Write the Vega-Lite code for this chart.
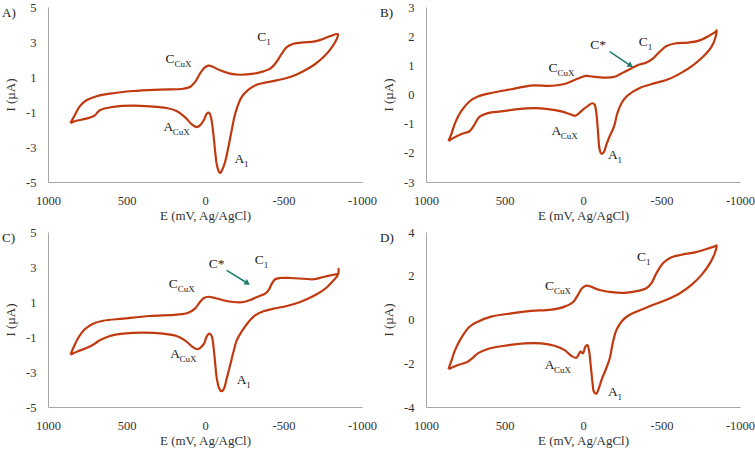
{
  "$schema": "https://vega.github.io/schema/vega-lite/v6.json",
  "padding": {"left": 2, "top": 1, "right": 2, "bottom": 2},
  "background": "white",
  "config": {
    "view": {"stroke": null},
    "font": "Liberation Serif",
    "text": {"font": "Liberation Serif", "color": "#1a1a1a"},
    "axis": {
      "grid": false, "ticks": false, "tickSize": 0, "labelFlush": false,
      "domainColor": "#A6A6A6", "domainWidth": 1,
      "labelFont": "Liberation Serif", "labelFontSize": 12.5, "labelColor": "#333333",
      "titleFont": "Liberation Serif", "titleFontSize": 13, "titleFontWeight": "normal", "titleColor": "#333333",
      "labelExpr": "'' + datum.value"
    },
    "axisX": {"labelPadding": 12, "titlePadding": 3},
    "axisY": {"labelPadding": 12, "titlePadding": 8}
  },
  "datasets": {
    "cv": [
      {"panel":"A","i":0,"E":857,"I":-1.63},{"panel":"A","i":1,"E":830,"I":-1.19},{"panel":"A","i":2,"E":798,"I":-0.68},{"panel":"A","i":3,"E":755,"I":-0.33},{"panel":"A","i":4,"E":691,"I":-0.10},{"panel":"A","i":5,"E":606,"I":0.05},{"panel":"A","i":6,"E":457,"I":0.20},{"panel":"A","i":7,"E":287,"I":0.28},{"panel":"A","i":8,"E":138,"I":0.33},{"panel":"A","i":9,"E":96,"I":0.43},{"panel":"A","i":10,"E":64,"I":0.71},{"panel":"A","i":11,"E":32,"I":1.19},{"panel":"A","i":12,"E":6,"I":1.51},{"panel":"A","i":13,"E":-21,"I":1.65},{"panel":"A","i":14,"E":-53,"I":1.57},{"panel":"A","i":15,"E":-96,"I":1.38},{"panel":"A","i":16,"E":-160,"I":1.19},{"panel":"A","i":17,"E":-223,"I":1.13},{"panel":"A","i":18,"E":-309,"I":1.19},{"panel":"A","i":19,"E":-372,"I":1.32},{"panel":"A","i":20,"E":-415,"I":1.48},{"panel":"A","i":21,"E":-447,"I":1.76},{"panel":"A","i":22,"E":-489,"I":2.33},{"panel":"A","i":23,"E":-521,"I":2.71},{"panel":"A","i":24,"E":-564,"I":2.90},{"panel":"A","i":25,"E":-628,"I":2.98},{"panel":"A","i":26,"E":-691,"I":3.02},{"panel":"A","i":27,"E":-745,"I":3.15},{"panel":"A","i":28,"E":-798,"I":3.34},{"panel":"A","i":29,"E":-847,"I":3.44},{"panel":"A","i":30,"E":-840,"I":3.19},{"panel":"A","i":31,"E":-809,"I":2.71},{"panel":"A","i":32,"E":-755,"I":2.14},{"panel":"A","i":33,"E":-691,"I":1.67},{"panel":"A","i":34,"E":-617,"I":1.29},{"panel":"A","i":35,"E":-543,"I":1.00},{"panel":"A","i":36,"E":-457,"I":0.81},{"panel":"A","i":37,"E":-372,"I":0.66},{"panel":"A","i":38,"E":-319,"I":0.52},{"panel":"A","i":39,"E":-277,"I":0.28},{"panel":"A","i":40,"E":-234,"I":-0.14},{"panel":"A","i":41,"E":-206,"I":-0.71},{"panel":"A","i":42,"E":-187,"I":-1.29},{"panel":"A","i":43,"E":-170,"I":-2.05},{"panel":"A","i":44,"E":-149,"I":-3.00},{"panel":"A","i":45,"E":-128,"I":-3.86},{"panel":"A","i":46,"E":-106,"I":-4.37},{"panel":"A","i":47,"E":-96,"I":-4.49},{"panel":"A","i":48,"E":-85,"I":-4.33},{"panel":"A","i":49,"E":-74,"I":-3.95},{"panel":"A","i":50,"E":-64,"I":-3.19},{"panel":"A","i":51,"E":-53,"I":-2.24},{"panel":"A","i":52,"E":-40,"I":-1.38},{"panel":"A","i":53,"E":-26,"I":-1.04},{"panel":"A","i":54,"E":-11,"I":-1.10},{"panel":"A","i":55,"E":6,"I":-1.44},{"panel":"A","i":56,"E":32,"I":-1.76},{"panel":"A","i":57,"E":53,"I":-1.86},{"panel":"A","i":58,"E":85,"I":-1.70},{"panel":"A","i":59,"E":128,"I":-1.29},{"panel":"A","i":60,"E":181,"I":-0.94},{"panel":"A","i":61,"E":245,"I":-0.77},{"panel":"A","i":62,"E":351,"I":-0.68},{"panel":"A","i":63,"E":457,"I":-0.64},{"panel":"A","i":64,"E":585,"I":-0.71},{"panel":"A","i":65,"E":670,"I":-0.90},{"panel":"A","i":66,"E":702,"I":-1.19},{"panel":"A","i":67,"E":734,"I":-1.32},{"panel":"A","i":68,"E":787,"I":-1.44},{"panel":"A","i":69,"E":830,"I":-1.53},{"panel":"A","i":70,"E":857,"I":-1.63},

      {"panel":"B","i":0,"E":857,"I":-1.60},{"panel":"B","i":1,"E":840,"I":-1.38},{"panel":"B","i":2,"E":815,"I":-0.98},{"panel":"B","i":3,"E":777,"I":-0.58},{"panel":"B","i":4,"E":723,"I":-0.24},{"panel":"B","i":5,"E":670,"I":-0.07},{"panel":"B","i":6,"E":585,"I":0.05},{"panel":"B","i":7,"E":457,"I":0.18},{"panel":"B","i":8,"E":372,"I":0.27},{"panel":"B","i":9,"E":309,"I":0.31},{"panel":"B","i":10,"E":202,"I":0.30},{"panel":"B","i":11,"E":117,"I":0.36},{"panel":"B","i":12,"E":53,"I":0.50},{"panel":"B","i":13,"E":11,"I":0.59},{"panel":"B","i":14,"E":-21,"I":0.64},{"panel":"B","i":15,"E":-64,"I":0.61},{"panel":"B","i":16,"E":-138,"I":0.58},{"panel":"B","i":17,"E":-202,"I":0.61},{"panel":"B","i":18,"E":-255,"I":0.75},{"panel":"B","i":19,"E":-309,"I":0.90},{"panel":"B","i":20,"E":-351,"I":1.01},{"panel":"B","i":21,"E":-404,"I":1.10},{"panel":"B","i":22,"E":-447,"I":1.24},{"panel":"B","i":23,"E":-489,"I":1.47},{"panel":"B","i":24,"E":-532,"I":1.66},{"panel":"B","i":25,"E":-585,"I":1.75},{"panel":"B","i":26,"E":-670,"I":1.78},{"panel":"B","i":27,"E":-734,"I":1.84},{"panel":"B","i":28,"E":-798,"I":2.00},{"panel":"B","i":29,"E":-847,"I":2.17},{"panel":"B","i":30,"E":-851,"I":2.20},{"panel":"B","i":31,"E":-845,"I":1.98},{"panel":"B","i":32,"E":-819,"I":1.64},{"panel":"B","i":33,"E":-766,"I":1.30},{"panel":"B","i":34,"E":-702,"I":1.01},{"panel":"B","i":35,"E":-628,"I":0.75},{"panel":"B","i":36,"E":-543,"I":0.52},{"panel":"B","i":37,"E":-457,"I":0.39},{"panel":"B","i":38,"E":-372,"I":0.25},{"panel":"B","i":39,"E":-319,"I":0.10},{"panel":"B","i":40,"E":-277,"I":-0.07},{"panel":"B","i":41,"E":-245,"I":-0.30},{"panel":"B","i":42,"E":-219,"I":-0.64},{"panel":"B","i":43,"E":-198,"I":-1.09},{"panel":"B","i":44,"E":-170,"I":-1.43},{"panel":"B","i":45,"E":-149,"I":-1.72},{"panel":"B","i":46,"E":-132,"I":-1.98},{"panel":"B","i":47,"E":-117,"I":-2.03},{"panel":"B","i":48,"E":-106,"I":-1.89},{"panel":"B","i":49,"E":-96,"I":-1.32},{"panel":"B","i":50,"E":-85,"I":-0.64},{"panel":"B","i":51,"E":-74,"I":-0.35},{"panel":"B","i":52,"E":-60,"I":-0.30},{"panel":"B","i":53,"E":-32,"I":-0.39},{"panel":"B","i":54,"E":0,"I":-0.52},{"panel":"B","i":55,"E":32,"I":-0.67},{"panel":"B","i":56,"E":53,"I":-0.73},{"panel":"B","i":57,"E":85,"I":-0.67},{"panel":"B","i":58,"E":138,"I":-0.58},{"panel":"B","i":59,"E":223,"I":-0.50},{"panel":"B","i":60,"E":309,"I":-0.47},{"panel":"B","i":61,"E":415,"I":-0.50},{"panel":"B","i":62,"E":521,"I":-0.58},{"panel":"B","i":63,"E":606,"I":-0.64},{"panel":"B","i":64,"E":660,"I":-0.77},{"panel":"B","i":65,"E":691,"I":-1.03},{"panel":"B","i":66,"E":723,"I":-1.26},{"panel":"B","i":67,"E":766,"I":-1.34},{"panel":"B","i":68,"E":819,"I":-1.47},{"panel":"B","i":69,"E":857,"I":-1.60},

      {"panel":"C","i":0,"E":857,"I":-2.01},{"panel":"C","i":1,"E":836,"I":-1.57},{"panel":"C","i":2,"E":804,"I":-1.00},{"panel":"C","i":3,"E":766,"I":-0.56},{"panel":"C","i":4,"E":713,"I":-0.24},{"panel":"C","i":5,"E":649,"I":-0.07},{"panel":"C","i":6,"E":521,"I":0.05},{"panel":"C","i":7,"E":351,"I":0.20},{"panel":"C","i":8,"E":181,"I":0.28},{"panel":"C","i":9,"E":106,"I":0.39},{"panel":"C","i":10,"E":64,"I":0.62},{"panel":"C","i":11,"E":32,"I":1.00},{"panel":"C","i":12,"E":6,"I":1.23},{"panel":"C","i":13,"E":-21,"I":1.30},{"panel":"C","i":14,"E":-64,"I":1.23},{"panel":"C","i":15,"E":-117,"I":1.10},{"panel":"C","i":16,"E":-181,"I":1.00},{"panel":"C","i":17,"E":-245,"I":1.00},{"panel":"C","i":18,"E":-298,"I":1.15},{"panel":"C","i":19,"E":-340,"I":1.32},{"panel":"C","i":20,"E":-383,"I":1.48},{"panel":"C","i":21,"E":-404,"I":1.67},{"panel":"C","i":22,"E":-426,"I":2.05},{"panel":"C","i":23,"E":-447,"I":2.30},{"panel":"C","i":24,"E":-479,"I":2.37},{"panel":"C","i":25,"E":-543,"I":2.37},{"panel":"C","i":26,"E":-628,"I":2.33},{"panel":"C","i":27,"E":-691,"I":2.30},{"panel":"C","i":28,"E":-755,"I":2.43},{"panel":"C","i":29,"E":-819,"I":2.56},{"panel":"C","i":30,"E":-847,"I":2.62},{"panel":"C","i":31,"E":-851,"I":2.90},{"panel":"C","i":32,"E":-847,"I":2.56},{"panel":"C","i":33,"E":-819,"I":2.24},{"panel":"C","i":34,"E":-766,"I":1.76},{"panel":"C","i":35,"E":-691,"I":1.34},{"panel":"C","i":36,"E":-606,"I":1.00},{"panel":"C","i":37,"E":-521,"I":0.77},{"panel":"C","i":38,"E":-436,"I":0.62},{"panel":"C","i":39,"E":-372,"I":0.47},{"panel":"C","i":40,"E":-319,"I":0.24},{"panel":"C","i":41,"E":-277,"I":-0.14},{"panel":"C","i":42,"E":-234,"I":-0.68},{"panel":"C","i":43,"E":-202,"I":-1.19},{"panel":"C","i":44,"E":-181,"I":-1.86},{"panel":"C","i":45,"E":-160,"I":-2.62},{"panel":"C","i":46,"E":-138,"I":-3.38},{"panel":"C","i":47,"E":-121,"I":-3.95},{"panel":"C","i":48,"E":-106,"I":-4.10},{"panel":"C","i":49,"E":-91,"I":-3.95},{"panel":"C","i":50,"E":-74,"I":-3.29},{"panel":"C","i":51,"E":-64,"I":-2.43},{"panel":"C","i":52,"E":-53,"I":-1.48},{"panel":"C","i":53,"E":-43,"I":-0.96},{"panel":"C","i":54,"E":-28,"I":-0.81},{"panel":"C","i":55,"E":-11,"I":-0.96},{"panel":"C","i":56,"E":6,"I":-1.38},{"panel":"C","i":57,"E":32,"I":-1.63},{"panel":"C","i":58,"E":49,"I":-1.70},{"panel":"C","i":59,"E":79,"I":-1.57},{"panel":"C","i":60,"E":128,"I":-1.19},{"panel":"C","i":61,"E":181,"I":-0.94},{"panel":"C","i":62,"E":266,"I":-0.81},{"panel":"C","i":63,"E":394,"I":-0.75},{"panel":"C","i":64,"E":521,"I":-0.81},{"panel":"C","i":65,"E":606,"I":-0.94},{"panel":"C","i":66,"E":670,"I":-1.19},{"panel":"C","i":67,"E":713,"I":-1.44},{"panel":"C","i":68,"E":755,"I":-1.63},{"panel":"C","i":69,"E":809,"I":-1.82},{"panel":"C","i":70,"E":857,"I":-2.01},

      {"panel":"D","i":0,"E":857,"I":-2.27},{"panel":"D","i":1,"E":840,"I":-1.93},{"panel":"D","i":2,"E":815,"I":-1.40},{"panel":"D","i":3,"E":777,"I":-0.86},{"panel":"D","i":4,"E":723,"I":-0.33},{"panel":"D","i":5,"E":670,"I":-0.10},{"panel":"D","i":6,"E":585,"I":0.13},{"panel":"D","i":7,"E":457,"I":0.28},{"panel":"D","i":8,"E":330,"I":0.39},{"panel":"D","i":9,"E":202,"I":0.45},{"panel":"D","i":10,"E":117,"I":0.59},{"panel":"D","i":11,"E":64,"I":0.79},{"panel":"D","i":12,"E":32,"I":1.13},{"panel":"D","i":13,"E":6,"I":1.43},{"panel":"D","i":14,"E":-21,"I":1.55},{"panel":"D","i":15,"E":-53,"I":1.49},{"panel":"D","i":16,"E":-106,"I":1.35},{"panel":"D","i":17,"E":-181,"I":1.25},{"panel":"D","i":18,"E":-266,"I":1.22},{"panel":"D","i":19,"E":-351,"I":1.31},{"panel":"D","i":20,"E":-404,"I":1.43},{"panel":"D","i":21,"E":-436,"I":1.66},{"panel":"D","i":22,"E":-468,"I":2.12},{"panel":"D","i":23,"E":-511,"I":2.58},{"panel":"D","i":24,"E":-564,"I":2.85},{"panel":"D","i":25,"E":-628,"I":2.96},{"panel":"D","i":26,"E":-713,"I":3.07},{"panel":"D","i":27,"E":-787,"I":3.22},{"panel":"D","i":28,"E":-847,"I":3.37},{"panel":"D","i":29,"E":-851,"I":3.39},{"panel":"D","i":30,"E":-840,"I":3.04},{"panel":"D","i":31,"E":-809,"I":2.58},{"panel":"D","i":32,"E":-755,"I":2.04},{"panel":"D","i":33,"E":-691,"I":1.58},{"panel":"D","i":34,"E":-617,"I":1.20},{"panel":"D","i":35,"E":-532,"I":0.90},{"panel":"D","i":36,"E":-436,"I":0.64},{"panel":"D","i":37,"E":-351,"I":0.39},{"panel":"D","i":38,"E":-287,"I":0.17},{"panel":"D","i":39,"E":-245,"I":-0.10},{"panel":"D","i":40,"E":-213,"I":-0.48},{"panel":"D","i":41,"E":-191,"I":-1.02},{"panel":"D","i":42,"E":-170,"I":-1.78},{"panel":"D","i":43,"E":-143,"I":-2.32},{"panel":"D","i":44,"E":-121,"I":-2.70},{"panel":"D","i":45,"E":-100,"I":-3.16},{"panel":"D","i":46,"E":-85,"I":-3.39},{"panel":"D","i":47,"E":-70,"I":-3.31},{"panel":"D","i":48,"E":-60,"I":-2.85},{"panel":"D","i":49,"E":-49,"I":-2.09},{"panel":"D","i":50,"E":-38,"I":-1.40},{"panel":"D","i":51,"E":-28,"I":-1.17},{"panel":"D","i":52,"E":-15,"I":-1.24},{"panel":"D","i":53,"E":0,"I":-1.55},{"panel":"D","i":54,"E":15,"I":-1.47},{"panel":"D","i":55,"E":32,"I":-1.66},{"panel":"D","i":56,"E":43,"I":-1.75},{"panel":"D","i":57,"E":74,"I":-1.66},{"panel":"D","i":58,"E":117,"I":-1.40},{"panel":"D","i":59,"E":181,"I":-1.20},{"panel":"D","i":60,"E":266,"I":-1.09},{"panel":"D","i":61,"E":372,"I":-1.09},{"panel":"D","i":62,"E":500,"I":-1.20},{"panel":"D","i":63,"E":606,"I":-1.35},{"panel":"D","i":64,"E":670,"I":-1.55},{"panel":"D","i":65,"E":702,"I":-1.75},{"panel":"D","i":66,"E":734,"I":-1.93},{"panel":"D","i":67,"E":787,"I":-2.06},{"panel":"D","i":68,"E":857,"I":-2.27}
    ],
    "labels": [
      {"panel":"A","E":223,"I":2.05,"main":"C","sub":"CuX"},
      {"panel":"A","E":-362,"I":3.29,"main":"C","sub":"1"},
      {"panel":"A","E":234,"I":-1.86,"main":"A","sub":"CuX"},
      {"panel":"A","E":-219,"I":-3.67,"main":"A","sub":"1"},
      {"panel":"B","E":191,"I":0.90,"main":"C","sub":"CuX"},
      {"panel":"B","E":-96,"I":1.69,"main":"C*","sub":""},
      {"panel":"B","E":-383,"I":1.81,"main":"C","sub":"1"},
      {"panel":"B","E":170,"I":-1.26,"main":"A","sub":"CuX"},
      {"panel":"B","E":-191,"I":-2.09,"main":"A","sub":"1"},
      {"panel":"C","E":202,"I":2.05,"main":"C","sub":"CuX"},
      {"panel":"C","E":-74,"I":3.19,"main":"C*","sub":""},
      {"panel":"C","E":-345,"I":3.38,"main":"C","sub":"1"},
      {"panel":"C","E":191,"I":-1.95,"main":"A","sub":"CuX"},
      {"panel":"C","E":-234,"I":-3.48,"main":"A","sub":"1"},
      {"panel":"D","E":213,"I":1.51,"main":"C","sub":"CuX"},
      {"panel":"D","E":-372,"I":2.88,"main":"C","sub":"1"},
      {"panel":"D","E":213,"I":-2.06,"main":"A","sub":"CuX"},
      {"panel":"D","E":-191,"I":-3.32,"main":"A","sub":"1"}
    ],
    "arrows": [
      {"panel":"B","E":-170,"I":1.47,"E2":-298,"I2":1.01},
      {"panel":"C","E":-138,"I":2.81,"E2":-266,"I2":2.10}
    ],
    "tags": [
      {"panel":"A","E":1000,"I":5,"tag":"A)"},
      {"panel":"B","E":1000,"I":3,"tag":"B)"},
      {"panel":"C","E":1000,"I":5,"tag":"C)"},
      {"panel":"D","E":1000,"I":4,"tag":"D)"}
    ]
  },
  "columns": 2,
  "spacing": {"row": 50, "column": 64},
  "bounds": "flush",
  "concat": [
    {
      "width": 314, "height": 175,
      "encoding": {
        "x": {"field": "E", "type": "quantitative", "scale": {"domain": [-1000, 1000], "reverse": true, "nice": false, "zero": false}, "axis": {"values": [1000, 500, 0, -500, -1000], "title": "E (mV, Ag/AgCl)"}},
        "y": {"field": "I", "type": "quantitative", "scale": {"domain": [-5, 5], "nice": false, "zero": false}, "axis": {"values": [-5, -3, -1, 1, 3, 5], "title": "I (µA)"}}
      },
      "layer": [
        {"data": {"name": "cv"}, "transform": [{"filter": "datum.panel == 'A'"}], "mark": {"type": "line", "color": "#C0390F", "strokeWidth": 2.2, "interpolate": "catmull-rom"}, "encoding": {"order": {"field": "i", "type": "quantitative"}}},
        {"data": {"name": "labels"}, "transform": [{"filter": "datum.panel == 'A'"}], "mark": {"type": "text", "fontSize": 13.5, "align": "center", "baseline": "middle"}, "encoding": {"text": {"field": "main"}}},
        {"data": {"name": "labels"}, "transform": [{"filter": "datum.panel == 'A'"}], "mark": {"type": "text", "fontSize": 9, "align": "left", "baseline": "middle", "dx": 4.5, "dy": 5}, "encoding": {"text": {"field": "sub"}}},
        {"data": {"name": "tags"}, "transform": [{"filter": "datum.panel == 'A'"}], "mark": {"type": "text", "fontSize": 13, "align": "left", "baseline": "middle", "dx": -46, "dy": 6}, "encoding": {"text": {"field": "tag"}}}
      ]
    },
    {
      "width": 314, "height": 175,
      "encoding": {
        "x": {"field": "E", "type": "quantitative", "scale": {"domain": [-1000, 1000], "reverse": true, "nice": false, "zero": false}, "axis": {"values": [1000, 500, 0, -500, -1000], "title": "E (mV, Ag/AgCl)"}},
        "y": {"field": "I", "type": "quantitative", "scale": {"domain": [-3, 3], "nice": false, "zero": false}, "axis": {"values": [-3, -2, -1, 0, 1, 2, 3], "title": "I (µA)"}}
      },
      "layer": [
        {"data": {"name": "cv"}, "transform": [{"filter": "datum.panel == 'B'"}], "mark": {"type": "line", "color": "#C0390F", "strokeWidth": 2.2, "interpolate": "catmull-rom"}, "encoding": {"order": {"field": "i", "type": "quantitative"}}},
        {"data": {"name": "arrows"}, "transform": [{"filter": "datum.panel == 'B'"}], "mark": {"type": "rule", "color": "#1E7B6A", "strokeWidth": 1.5}, "encoding": {"x2": {"field": "E2"}, "y2": {"field": "I2"}}},
        {"data": {"name": "arrows"}, "transform": [{"filter": "datum.panel == 'B'"}], "mark": {"type": "point", "shape": "triangle", "filled": true, "color": "#1E7B6A", "size": 40, "angle": 124, "opacity": 1}, "encoding": {"x": {"field": "E2", "type": "quantitative"}, "y": {"field": "I2", "type": "quantitative"}}},
        {"data": {"name": "labels"}, "transform": [{"filter": "datum.panel == 'B'"}], "mark": {"type": "text", "fontSize": 13.5, "align": "center", "baseline": "middle"}, "encoding": {"text": {"field": "main"}}},
        {"data": {"name": "labels"}, "transform": [{"filter": "datum.panel == 'B'"}], "mark": {"type": "text", "fontSize": 9, "align": "left", "baseline": "middle", "dx": 4.5, "dy": 5}, "encoding": {"text": {"field": "sub"}}},
        {"data": {"name": "tags"}, "transform": [{"filter": "datum.panel == 'B'"}], "mark": {"type": "text", "fontSize": 13, "align": "left", "baseline": "middle", "dx": -46, "dy": 6}, "encoding": {"text": {"field": "tag"}}}
      ]
    },
    {
      "width": 314, "height": 175,
      "encoding": {
        "x": {"field": "E", "type": "quantitative", "scale": {"domain": [-1000, 1000], "reverse": true, "nice": false, "zero": false}, "axis": {"values": [1000, 500, 0, -500, -1000], "title": "E (mV, Ag/AgCl)"}},
        "y": {"field": "I", "type": "quantitative", "scale": {"domain": [-5, 5], "nice": false, "zero": false}, "axis": {"values": [-5, -3, -1, 1, 3, 5], "title": "I (µA)"}}
      },
      "layer": [
        {"data": {"name": "cv"}, "transform": [{"filter": "datum.panel == 'C'"}], "mark": {"type": "line", "color": "#C0390F", "strokeWidth": 2.2, "interpolate": "catmull-rom"}, "encoding": {"order": {"field": "i", "type": "quantitative"}}},
        {"data": {"name": "arrows"}, "transform": [{"filter": "datum.panel == 'C'"}], "mark": {"type": "rule", "color": "#1E7B6A", "strokeWidth": 1.5}, "encoding": {"x2": {"field": "E2"}, "y2": {"field": "I2"}}},
        {"data": {"name": "arrows"}, "transform": [{"filter": "datum.panel == 'C'"}], "mark": {"type": "point", "shape": "triangle", "filled": true, "color": "#1E7B6A", "size": 40, "angle": 122, "opacity": 1}, "encoding": {"x": {"field": "E2", "type": "quantitative"}, "y": {"field": "I2", "type": "quantitative"}}},
        {"data": {"name": "labels"}, "transform": [{"filter": "datum.panel == 'C'"}], "mark": {"type": "text", "fontSize": 13.5, "align": "center", "baseline": "middle"}, "encoding": {"text": {"field": "main"}}},
        {"data": {"name": "labels"}, "transform": [{"filter": "datum.panel == 'C'"}], "mark": {"type": "text", "fontSize": 9, "align": "left", "baseline": "middle", "dx": 4.5, "dy": 5}, "encoding": {"text": {"field": "sub"}}},
        {"data": {"name": "tags"}, "transform": [{"filter": "datum.panel == 'C'"}], "mark": {"type": "text", "fontSize": 13, "align": "left", "baseline": "middle", "dx": -46, "dy": 6}, "encoding": {"text": {"field": "tag"}}}
      ]
    },
    {
      "width": 314, "height": 175,
      "encoding": {
        "x": {"field": "E", "type": "quantitative", "scale": {"domain": [-1000, 1000], "reverse": true, "nice": false, "zero": false}, "axis": {"values": [1000, 500, 0, -500, -1000], "title": "E (mV, Ag/AgCl)"}},
        "y": {"field": "I", "type": "quantitative", "scale": {"domain": [-4, 4], "nice": false, "zero": false}, "axis": {"values": [-4, -2, 0, 2, 4], "title": "I (µA)"}}
      },
      "layer": [
        {"data": {"name": "cv"}, "transform": [{"filter": "datum.panel == 'D'"}], "mark": {"type": "line", "color": "#C0390F", "strokeWidth": 2.2, "interpolate": "catmull-rom"}, "encoding": {"order": {"field": "i", "type": "quantitative"}}},
        {"data": {"name": "labels"}, "transform": [{"filter": "datum.panel == 'D'"}], "mark": {"type": "text", "fontSize": 13.5, "align": "center", "baseline": "middle"}, "encoding": {"text": {"field": "main"}}},
        {"data": {"name": "labels"}, "transform": [{"filter": "datum.panel == 'D'"}], "mark": {"type": "text", "fontSize": 9, "align": "left", "baseline": "middle", "dx": 4.5, "dy": 5}, "encoding": {"text": {"field": "sub"}}},
        {"data": {"name": "tags"}, "transform": [{"filter": "datum.panel == 'D'"}], "mark": {"type": "text", "fontSize": 13, "align": "left", "baseline": "middle", "dx": -46, "dy": 6}, "encoding": {"text": {"field": "tag"}}}
      ]
    }
  ]
}
